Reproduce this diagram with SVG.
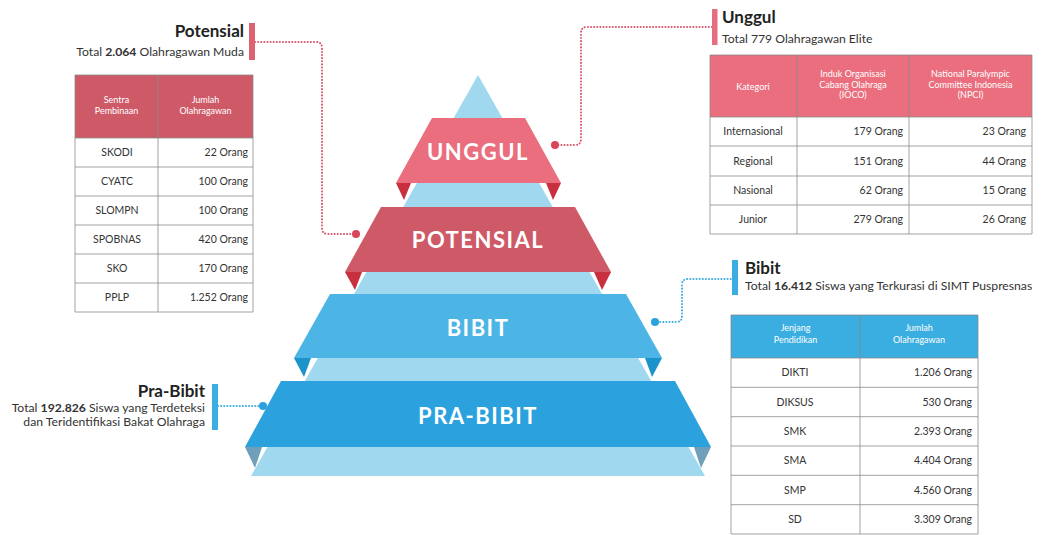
<svg xmlns="http://www.w3.org/2000/svg" width="1043" height="535" viewBox="0 0 1043 535">
<style>
text{font-family:Lato,"Open Sans","Liberation Sans",sans-serif}
.band{font-size:22px;font-weight:700;fill:#fff;text-anchor:middle;letter-spacing:1.5px}
.ttl{font-size:17px;font-weight:700;fill:#222}
.sub{font-size:12.2px;fill:#333}
.sub tspan.b{font-weight:700}
.th{font-size:9px;fill:#fff;text-anchor:middle}
.td{font-size:10.5px;fill:#333}
.c{text-anchor:middle}
.r{text-anchor:end}
.grid{fill:none;stroke:#8a8a8a;stroke-width:0.8}
.dotr{fill:none;stroke:#d9566b;stroke-width:2;stroke-dasharray:0.1 3;stroke-linecap:round}
.dotb{fill:none;stroke:#3aaee0;stroke-width:2;stroke-dasharray:0.1 3;stroke-linecap:round}
</style>

<g id="pyramid">
  <polygon points="478,75 251,476 705,476" fill="#a0d8ef"/>
  <g id="band-unggul">
    <polygon points="432,118 525,118 561,183 396,183" fill="#ea6e7d"/>
    <polygon points="396,183 411,183 404,200" fill="#c9303f"/>
    <polygon points="546,183 561,183 553,200" fill="#c9303f"/>
    <text class="band" x="478" y="160">UNGGUL</text>
  </g>
  <g id="band-potensial">
    <polygon points="381,207 575,207 611,272 345,272" fill="#ce5a67"/>
    <polygon points="345,272 362,272 355,290" fill="#c9303f"/>
    <polygon points="594,272 611,272 602,290" fill="#c9303f"/>
    <text class="band" x="478" y="248">POTENSIAL</text>
  </g>
  <g id="band-bibit">
    <polygon points="330,294 626,294 662,358 294,358" fill="#4cb5e5"/>
    <polygon points="294,358 311,358 304,377" fill="#1d93cc"/>
    <polygon points="645,358 662,358 652,377" fill="#1d93cc"/>
    <text class="band" x="478" y="336">BIBIT</text>
  </g>
  <g id="band-prabibit">
    <polygon points="281,381 675,381 711,447 245,447" fill="#2ba2de"/>
    <polygon points="245,447 262,447 255,468" fill="#6f9fba"/>
    <polygon points="694,447 711,447 701,468" fill="#6f9fba"/>
    <text class="band" x="478" y="424">PRA-BIBIT</text>
  </g>
</g>

<g id="connectors">
  <path class="dotr" d="M255,42 H316 Q322,42 322,48 V228 Q322,234 328,234 H354"/>
  <circle cx="356" cy="234" r="4" fill="#d9465a"/>
  <path class="dotr" d="M712,27 H587 Q581,27 581,33 V139 Q581,145 575,145 H557"/>
  <circle cx="555" cy="145" r="4" fill="#d9465a"/>
  <path class="dotb" d="M657,322 H676 Q682,322 682,316 V285 Q682,279 688,279 H731"/>
  <circle cx="655" cy="322" r="4" fill="#2ba2de"/>
  <path class="dotb" d="M218,406 H261"/>
  <circle cx="263" cy="406" r="4" fill="#2ba2de"/>
</g>

<g id="potensial">
  <rect x="249" y="23" width="6" height="37" fill="#dc6273"/>
  <text class="ttl" x="244" y="37" text-anchor="end">Potensial</text>
  <text class="sub" x="244" y="56" text-anchor="end">Total <tspan class="b">2.064</tspan> Olahragawan Muda</text>
  <rect x="75" y="75" width="178" height="63" fill="#ce5a67"/>
  <rect x="75" y="138" width="178" height="174" fill="#fff"/>
  <path class="grid" d="M75,75 H253 V312 H75 Z M158,75 V312 M75,138 H253 M75,167 H253 M75,196 H253 M75,225 H253 M75,254 H253 M75,283 H253"/>
  <text class="th" x="116.5" y="103">Sentra</text>
  <text class="th" x="116.5" y="114">Pembinaan</text>
  <text class="th" x="205.5" y="103">Jumlah</text>
  <text class="th" x="205.5" y="114">Olahragawan</text>
  <g class="td">
    <text class="c" x="117" y="156">SKODI</text><text class="r" x="248" y="156">22 Orang</text>
    <text class="c" x="117" y="185">CYATC</text><text class="r" x="248" y="185">100 Orang</text>
    <text class="c" x="117" y="214">SLOMPN</text><text class="r" x="248" y="214">100 Orang</text>
    <text class="c" x="117" y="243">SPOBNAS</text><text class="r" x="248" y="243">420 Orang</text>
    <text class="c" x="117" y="272">SKO</text><text class="r" x="248" y="272">170 Orang</text>
    <text class="c" x="117" y="301">PPLP</text><text class="r" x="248" y="301">1.252 Orang</text>
  </g>
</g>

<g id="unggul">
  <rect x="712" y="9" width="5.5" height="36" fill="#e56f7e"/>
  <text class="ttl" x="722" y="23">Unggul</text>
  <text class="sub" x="722" y="43">Total 779 Olahragawan Elite</text>
  <rect x="710" y="55" width="322" height="62" fill="#ea6e7d"/>
  <rect x="710" y="117" width="322" height="117" fill="#fff"/>
  <path class="grid" d="M710,55 H1032 V234 H710 Z M797,55 V234 M909,55 V234 M710,117 H1032 M710,146 H1032 M710,176 H1032 M710,205 H1032"/>
  <text class="th" x="753" y="90">Kategori</text>
  <text class="th" x="853" y="77">Induk Organisasi</text>
  <text class="th" x="853" y="87.5">Cabang Olahraga</text>
  <text class="th" x="853" y="98">(IOCO)</text>
  <text class="th" x="970.5" y="77">National Paralympic</text>
  <text class="th" x="970.5" y="87.5">Committee Indonesia</text>
  <text class="th" x="970.5" y="98">(NPCI)</text>
  <g class="td">
    <text class="c" x="753" y="135">Internasional</text><text class="r" x="903" y="135">179 Orang</text><text class="r" x="1026" y="135">23 Orang</text>
    <text class="c" x="753" y="165">Regional</text><text class="r" x="903" y="165">151 Orang</text><text class="r" x="1026" y="165">44 Orang</text>
    <text class="c" x="753" y="194">Nasional</text><text class="r" x="903" y="194">62 Orang</text><text class="r" x="1026" y="194">15 Orang</text>
    <text class="c" x="753" y="223">Junior</text><text class="r" x="903" y="223">279 Orang</text><text class="r" x="1026" y="223">26 Orang</text>
  </g>
</g>

<g id="bibit">
  <rect x="732" y="260" width="6" height="35" fill="#3aaee0"/>
  <text class="ttl" x="745" y="274">Bibit</text>
  <text class="sub" x="745" y="290">Total <tspan class="b">16.412</tspan> Siswa yang Terkurasi di SIMT Puspresnas</text>
  <rect x="731" y="315" width="247" height="43" fill="#3aaee0"/>
  <rect x="731" y="358" width="247" height="176" fill="#fff"/>
  <path class="grid" d="M731,315 H978 V534 H731 Z M860,315 V534 M731,358 H978 M731,387.3 H978 M731,416.7 H978 M731,446 H978 M731,475.3 H978 M731,504.7 H978"/>
  <text class="th" x="795.5" y="331">Jenjang</text>
  <text class="th" x="795.5" y="343">Pendidikan</text>
  <text class="th" x="919" y="331">Jumlah</text>
  <text class="th" x="919" y="343">Olahragawan</text>
  <g class="td">
    <text class="c" x="795" y="376">DIKTI</text><text class="r" x="972" y="376">1.206 Orang</text>
    <text class="c" x="795" y="405.5">DIKSUS</text><text class="r" x="972" y="405.5">530 Orang</text>
    <text class="c" x="795" y="435">SMK</text><text class="r" x="972" y="435">2.393 Orang</text>
    <text class="c" x="795" y="464">SMA</text><text class="r" x="972" y="464">4.404 Orang</text>
    <text class="c" x="795" y="493.5">SMP</text><text class="r" x="972" y="493.5">4.560 Orang</text>
    <text class="c" x="795" y="523">SD</text><text class="r" x="972" y="523">3.309 Orang</text>
  </g>
</g>

<g id="prabibit">
  <rect x="212" y="384" width="6" height="46" fill="#3aaee0"/>
  <text class="ttl" x="205" y="397" text-anchor="end">Pra-Bibit</text>
  <text class="sub" x="205" y="412" text-anchor="end">Total <tspan class="b">192.826</tspan> Siswa yang Terdeteksi</text>
  <text class="sub" x="205" y="426" text-anchor="end">dan Teridentifikasi Bakat Olahraga</text>
</g>
</svg>
